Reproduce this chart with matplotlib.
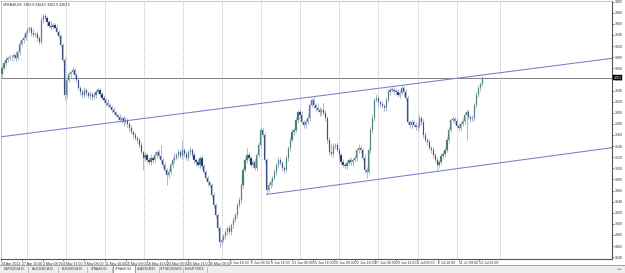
import matplotlib
matplotlib.use("Agg")
import matplotlib.pyplot as plt
from matplotlib.patches import Rectangle
from matplotlib.lines import Line2D
import matplotlib.transforms as mtransforms
import numpy as np

plt.rcParams["font.family"] = ["Liberation Sans", "DejaVu Sans"]

# ---------------- data ----------------
symbol_header = "#FRA40,H4  3263.0 3264.5 3262.5 3263.5"
first_open = 3270
closes = [
    3281, 3290, 3295, 3299, 3300, 3300, 3304, 3299, 3309, 3324,
    3331, 3335, 3344, 3349, 3353, 3344, 3340, 3342, 3335, 3327,
    3367, 3374, 3371, 3363, 3356, 3354, 3358, 3353, 3345, 3338,
    3322, 3295, 3232, 3259, 3270, 3273, 3277, 3268, 3259, 3245,
    3237, 3232, 3241, 3236, 3230, 3234, 3228, 3232, 3237, 3241,
    3234, 3227, 3223, 3218, 3214, 3210, 3205, 3201, 3196, 3192,
    3187, 3191, 3183, 3187, 3180, 3173, 3165, 3160, 3155, 3151,
    3142, 3129, 3119, 3124, 3115, 3111, 3119, 3115, 3124, 3129,
    3122, 3115, 3106, 3097, 3088, 3093, 3106, 3115, 3119, 3124,
    3129, 3122, 3133, 3126, 3119, 3129, 3133, 3124, 3115, 3111,
    3106, 3119, 3104, 3093, 3083, 3075, 3070, 3052, 3034, 3016,
    2993, 2967, 2971, 2978, 2985, 2993, 2985, 2998, 3007, 3016,
    3034, 3043, 3070, 3097, 3115, 3124, 3119, 3106, 3111, 3101,
    3124, 3142, 3169, 3160, 3115, 3061, 3070, 3075, 3083, 3093,
    3106, 3115, 3110, 3101, 3097, 3119, 3137, 3151, 3165, 3169,
    3187, 3201, 3196, 3183, 3178, 3183, 3191, 3214, 3223, 3214,
    3209, 3205, 3201, 3205, 3200, 3191, 3151, 3129, 3126, 3140,
    3142, 3133, 3124, 3111, 3106, 3104, 3110, 3115, 3111, 3115,
    3119, 3133, 3137, 3133, 3119, 3097, 3093, 3133, 3169, 3191,
    3223, 3227, 3219, 3216, 3212, 3209, 3223, 3237, 3241, 3241,
    3239, 3237, 3232, 3236, 3245, 3237, 3227, 3183, 3178, 3183,
    3178, 3174, 3176, 3191, 3183, 3160, 3151, 3147, 3137, 3133,
    3124, 3115, 3106, 3111, 3122, 3126, 3133, 3151, 3169, 3187,
    3189, 3185, 3176, 3173, 3180, 3185, 3196, 3201, 3192, 3189,
    3191, 3214, 3232, 3245, 3252, 3263,
]
upper_wick = [
    3, 4, 5, 3, 6, 4, 3, 7, 4, 5,
    4, 6, 3, 5, 4, 3, 6, 4, 5, 3,
    5, 4, 6, 3, 4, 9, 4, 3, 5, 4,
    3, 4, 5, 6, 4, 3, 5, 4, 3, 5,
    4, 5, 6, 4, 3, 5, 4, 6, 5, 5,
    4, 3, 5, 4, 6, 3, 4, 5, 3, 4,
    6, 4, 3, 5, 4, 3, 5, 4, 6, 3,
    4, 5, 3, 6, 4, 5, 7, 4, 5, 4,
    6, 20, 4, 5, 3, 6, 4, 5, 8, 4,
    5, 6, 18, 4, 5, 4, 6, 3, 5, 4,
    6, 4, 5, 3, 4, 5, 3, 4, 5, 3,
    4, 3, 5, 4, 6, 3, 5, 4, 5, 4,
    3, 5, 4, 6, 4, 12, 5, 4, 6, 5,
    4, 6, 5, 4, 5, 3, 4, 5, 4, 6,
    4, 5, 6, 4, 3, 5, 4, 6, 5, 4,
    6, 4, 5, 7, 4, 5, 6, 4, 4, 5,
    4, 6, 5, 4, 12, 5, 4, 6, 16, 5,
    4, 5, 6, 4, 5, 3, 5, 4, 6, 4,
    5, 4, 6, 5, 4, 6, 5, 4, 5, 6,
    4, 6, 5, 4, 5, 4, 6, 5, 4, 6,
    5, 4, 6, 5, 5, 4, 6, 5, 4, 5,
    4, 6, 5, 7, 4, 5, 6, 4, 5, 4,
    6, 4, 5, 4, 6, 5, 4, 6, 5, 4,
    5, 4, 6, 5, 4, 5, 6, 4, 5, 4,
    5, 4, 6, 5, 4, 3,
]
lower_wick = [
    7, 4, 5, 3, 4, 6, 3, 5, 4, 5,
    3, 5, 4, 6, 4, 5, 3, 4, 5, 4,
    4, 5, 3, 6, 4, 5, 4, 3, 5, 4,
    4, 3, 9, 5, 4, 6, 4, 5, 3, 4,
    5, 6, 4, 5, 4, 6, 5, 4, 5, 4,
    5, 4, 6, 5, 3, 4, 6, 5, 4, 5,
    4, 5, 6, 4, 5, 6, 4, 5, 4, 6,
    5, 4, 22, 5, 6, 4, 5, 6, 4, 5,
    4, 6, 5, 4, 18, 5, 4, 6, 5, 4,
    5, 4, 6, 5, 4, 6, 5, 4, 5, 6,
    4, 5, 6, 4, 5, 6, 4, 5, 6, 5,
    6, 9, 5, 4, 6, 5, 4, 5, 6, 4,
    5, 4, 6, 5, 4, 5, 6, 4, 5, 4,
    6, 4, 5, 4, 5, 7, 4, 5, 6, 4,
    5, 6, 4, 5, 5, 4, 6, 5, 4, 5,
    4, 6, 5, 4, 5, 6, 4, 5, 4, 6,
    5, 4, 6, 5, 4, 5, 6, 5, 4, 6,
    5, 4, 6, 5, 4, 6, 5, 4, 5, 6,
    4, 5, 6, 5, 4, 5, 11, 4, 5, 6,
    5, 4, 6, 5, 4, 5, 6, 4, 5, 4,
    6, 5, 4, 5, 4, 6, 5, 4, 5, 6,
    4, 5, 6, 4, 5, 6, 4, 5, 4, 6,
    5, 4, 9, 5, 4, 5, 6, 4, 5, 4,
    6, 5, 4, 5, 6, 4, 5, 45, 4, 5,
    4, 5, 6, 4, 5, 3,
]
date_labels = [
    "24 Apr 2012", "27 Apr 16:00", "2 May 08:00", "4 May 16:00",
    "9 May 08:00", "11 May 16:00", "16 May 08:00", "18 May 16:00",
    "23 May 08:00", "25 May 16:00", "30 May 08:00", "1 Jun 16:00",
    "6 Jun 08:00", "8 Jun 16:00", "13 Jun 08:00", "15 Jun 16:00",
    "20 Jun 08:00", "22 Jun 16:00", "27 Jun 08:00", "29 Jun 16:00",
    "4 Jul 08:00", "6 Jul 16:00", "11 Jul 08:00", "13 Jul 16:00",
]
y_tick_values = [3400, 3380, 3360, 3340, 3320, 3300, 3280, 3260, 3240, 3220,
                 3200, 3180, 3160, 3140, 3120, 3100, 3080, 3060, 3040, 3020,
                 3000, 2980, 2960, 2940]
channel_upper_bars = [0, 245]
channel_upper_prices = [3157, 3268]
channel_lower_bars = [135, 225]
channel_lower_prices = [3053, 3096]
tab_names = ["GBPUSD,M15", "AUDUSD,M15", "EURUSD,M15", "#FRA40,H1",
             "#FRA40,H4", "#DAX30,M15", "#FTSE100,M15", "EURJPY,M15"]
active_tab = "#FRA40,H4"

# ---------------- styling ----------------
W, H = 625, 273
FS = 2.5
wick_col = "#97a3c2"
bull_col = "#2f7a55"
bear_col = "#101d66"
chan_col = "#7c7cc9"

fig = plt.figure(figsize=(W / 100, H / 100), dpi=100)
fig.patch.set_facecolor("white")

ax_left_px, ax_right_px, ax_top_px, ax_bot_px = 1, 612, 1, 259
ax = fig.add_axes([ax_left_px / W, 1 - ax_bot_px / H,
                   (ax_right_px - ax_left_px) / W, (ax_bot_px - ax_top_px) / H])
ax.set_facecolor("white")

bar_px = 1.96
first_bar_px = 2.0
px2bar = lambda p: (p - first_bar_px) / bar_px
ax.set_xlim(px2bar(ax_left_px), px2bar(ax_right_px))
ax.set_ylim(3403 - 1.8 * ax_bot_px, 3403 - 1.8 * ax_top_px)

# weekly dotted grid
for p in [26.5 + 39.1 * k for k in range(12)] + [500]:
    ax.axvline(px2bar(p), color="#9a9a9a", lw=0.55, ls=(0, (1, 1.6)), zorder=0)

# candles
n = len(closes)
idx = np.arange(n)
o = np.array([first_open] + closes[:-1], dtype=float)
c = np.array(closes, dtype=float)
hi = np.maximum(o, c) + np.array(upper_wick)
lo = np.minimum(o, c) - np.array(lower_wick)
up = c >= o
ax.vlines(idx, lo, hi, color=wick_col, lw=0.55, zorder=2)
bb = np.minimum(o, c)
bh = np.maximum(np.abs(c - o), 1.0)
ax.bar(idx[up], bh[up], bottom=bb[up], width=0.62, color=bull_col,
       edgecolor=wick_col, linewidth=0.25, zorder=3)
ax.bar(idx[~up], bh[~up], bottom=bb[~up], width=0.62, color=bear_col,
       edgecolor=wick_col, linewidth=0.25, zorder=3)

# channel lines
ax.axline((channel_upper_bars[0], channel_upper_prices[0]),
          (channel_upper_bars[1], channel_upper_prices[1]),
          color=chan_col, lw=0.75, zorder=4)
slope = (channel_lower_prices[1] - channel_lower_prices[0]) / (channel_lower_bars[1] - channel_lower_bars[0])
x_end = ax.get_xlim()[1]
ax.plot([channel_lower_bars[0], x_end],
        [channel_lower_prices[0], channel_lower_prices[0] + slope * (x_end - channel_lower_bars[0])],
        color=chan_col, lw=0.75, zorder=4)

# current price line
last = closes[-1]
ax.axhline(last, color="#808080", lw=0.7, zorder=1)

# axes
for s in ["top", "left"]:
    ax.spines[s].set_color("#b0b0b0")
    ax.spines[s].set_linewidth(0.5)
for s in ["right", "bottom"]:
    ax.spines[s].set_color("#555555")
    ax.spines[s].set_linewidth(0.8)
ax.yaxis.tick_right()
ax.set_yticks(y_tick_values)
ax.set_yticklabels([str(v) for v in y_tick_values])
ax.tick_params(axis="y", labelsize=FS, length=1.2, width=0.4, pad=0.8,
               colors="#333333")
label_pos = [px2bar(1 + 20.8 * k) for k in range(len(date_labels))]
ax.set_xticks(label_pos)
ax.set_xticklabels(date_labels, ha="left")
ax.tick_params(axis="x", labelsize=FS, length=1.2, width=0.4, pad=0.6,
               colors="#333333")

# price marker box on the right scale
trans = mtransforms.blended_transform_factory(ax.transAxes, ax.transData)
ax.text(1.003, last, f"{last:.0f}", transform=trans, fontsize=FS, color="white",
        va="center", ha="left", zorder=6, clip_on=False,
        bbox=dict(boxstyle="square,pad=0.12", fc="black", ec="black", lw=0.3))

# header
ax.text(0.004, 0.993, symbol_header, transform=ax.transAxes, fontsize=FS,
        va="top", ha="left", color="#222222")

# tab bar
tab_ax = fig.add_axes([0, 0, 1, 8 / H])
tab_ax.set_xlim(0, W)
tab_ax.set_ylim(0, 8)
tab_ax.axis("off")
tab_ax.add_patch(Rectangle((0, 0), W, 8, fc="#eeeeee", ec="none"))
tab_edges = [0, 28, 58, 87, 112, 135, 159, 183, 207]
for i, name in enumerate(tab_names):
    x0, x1 = tab_edges[i], tab_edges[i + 1]
    if name == active_tab:
        tab_ax.add_patch(Rectangle((x0 + 0.5, 0.3), x1 - x0 - 1, 7.5, fc="white",
                                   ec="#777777", lw=0.5))
    else:
        tab_ax.plot([x1, x1], [1.5, 6.5], color="#aaaaaa", lw=0.5)
    tab_ax.text((x0 + x1) / 2, 4, name, fontsize=FS - 0.2, ha="center",
                va="center", color="#333333")
tab_ax.text(619, 4, "◂ ▸", fontsize=FS, ha="center", va="center", color="#555555")
fig.add_artist(Line2D([0, 1], [8 / H, 8 / H], transform=fig.transFigure,
                      color="#999999", lw=0.6))

fig.savefig("out.png", dpi=100, facecolor="white")
